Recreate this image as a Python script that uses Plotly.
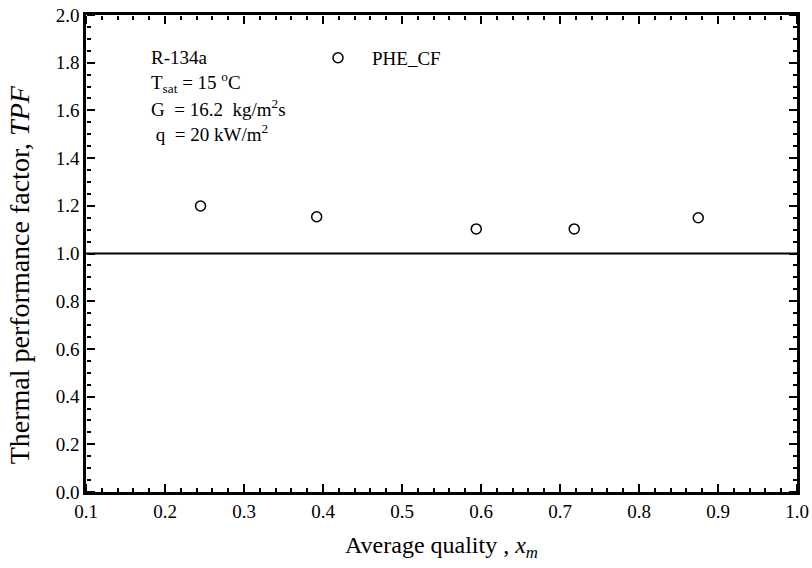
import plotly.graph_objects as go

# average quality x_m and thermal performance factor
x_m = [0.245, 0.392, 0.594, 0.718, 0.875]
tpf = [1.199, 1.154, 1.103, 1.103, 1.150]
series_name = "PHE_CF"

x_ticks = [0.1, 0.2, 0.3, 0.4, 0.5, 0.6, 0.7, 0.8, 0.9, 1.0]
y_ticks = [0.0, 0.2, 0.4, 0.6, 0.8, 1.0, 1.2, 1.4, 1.6, 1.8, 2.0]

conditions = [
    "R-134a",
    "T<sub>sat</sub> = 15 <sup>o</sup>C",
    "G \u00a0= 16.2 \u00a0kg/m<sup>2</sup>s",
    "\u00a0q \u00a0= 20 kW/m<sup>2</sup>",
]

serif = "Liberation Serif, Times New Roman, serif"

fig = go.Figure()
fig.add_trace(go.Scatter(
    x=x_m, y=tpf, mode="markers", name=series_name,
    marker=dict(symbol="circle-open", size=10, color="black", line=dict(width=1.5, color="black")),
))
# empty traces so the overlay tick axes get drawn
fig.add_trace(go.Scatter(x=[], y=[], xaxis="x2", yaxis="y2", showlegend=False, hoverinfo="skip"))
fig.add_trace(go.Scatter(x=[], y=[], xaxis="x3", yaxis="y3", showlegend=False, hoverinfo="skip"))

# reference line TPF = 1
fig.add_hline(y=1.0, line=dict(color="black", width=2.2))

for i, txt in enumerate(conditions):
    fig.add_annotation(
        text=txt, xref="paper", yref="paper",
        x=0.088, y=0.91 - i * 0.0524, xanchor="left", yanchor="middle",
        showarrow=False, font=dict(family=serif, size=19, color="black"),
    )

# y title as rotated text (sits a bit below centre in the original)
fig.add_annotation(
    text="Thermal performance factor, <i>TPF</i>", textangle=-90,
    xref="paper", yref="paper", x=-0.093, y=0.456,
    xanchor="center", yanchor="middle", showarrow=False,
    font=dict(family=serif, size=28, color="black"),
)

x_rng = [x_ticks[0], x_ticks[-1]]
y_rng = [y_ticks[0], y_ticks[-1]]
x_step = x_ticks[1] - x_ticks[0]
y_step = y_ticks[1] - y_ticks[0]

# main axes: frame + labels
fig.update_layout(
    xaxis=dict(
        range=x_rng, tickvals=x_ticks, ticktext=[f"{v:.1f}" for v in x_ticks],
        showline=True, linecolor="black", linewidth=2.5, mirror=True, ticks="",
        showgrid=False, zeroline=False,
        tickfont=dict(family=serif, size=19, color="black"),
        title=dict(text="Average quality , <i>x<sub>m</sub></i>", standoff=16,
                   font=dict(family=serif, size=24, color="black")),
    ),
    yaxis=dict(
        range=y_rng, tickvals=y_ticks, ticktext=[f"{v:.1f}" for v in y_ticks],
        showline=True, linecolor="black", linewidth=2.5, mirror=True, ticks="",
        showgrid=False, zeroline=False,
        tickfont=dict(family=serif, size=19, color="black"),
    ),
)

# inward ticks: outside ticks of overlay axes that face into the plot
tick_style = dict(ticks="outside", ticklen=8, tickwidth=2, tickcolor="black",
                  showticklabels=False, showline=False, showgrid=False, zeroline=False)
x_minor = dict(ticks="outside", ticklen=4, tickwidth=1.5, tickcolor="black", dtick=x_step / 5)
y_minor = dict(ticks="outside", ticklen=4, tickwidth=1.5, tickcolor="black", dtick=y_step / 4)

fig.update_layout(
    xaxis2=dict(overlaying="x", anchor="free", position=0, side="top", range=x_rng,
                tickmode="linear", tick0=x_ticks[0], dtick=x_step, minor=x_minor, **tick_style),
    xaxis3=dict(overlaying="x", anchor="free", position=1, side="bottom", range=x_rng,
                tickmode="linear", tick0=x_ticks[0], dtick=x_step, minor=x_minor, **tick_style),
    yaxis2=dict(overlaying="y", anchor="free", position=0, side="right", range=y_rng,
                tickmode="linear", tick0=y_ticks[0], dtick=y_step, minor=y_minor, **tick_style),
    yaxis3=dict(overlaying="y", anchor="free", position=1, side="left", range=y_rng,
                tickmode="linear", tick0=y_ticks[0], dtick=y_step, minor=y_minor, **tick_style),
)

fig.update_layout(
    width=812, height=568,
    margin=dict(l=86, r=15, t=15, b=76, autoexpand=False),
    plot_bgcolor="white", paper_bgcolor="white",
    showlegend=True,
    legend=dict(x=0.3066, y=0.91, xanchor="left", yanchor="middle",
                bgcolor="rgba(0,0,0,0)", itemwidth=58,
                font=dict(family=serif, size=19, color="black")),
)

fig.write_html("out.html", config={"displayModeBar": False},
               post_script="document.body.style.margin='0';")
